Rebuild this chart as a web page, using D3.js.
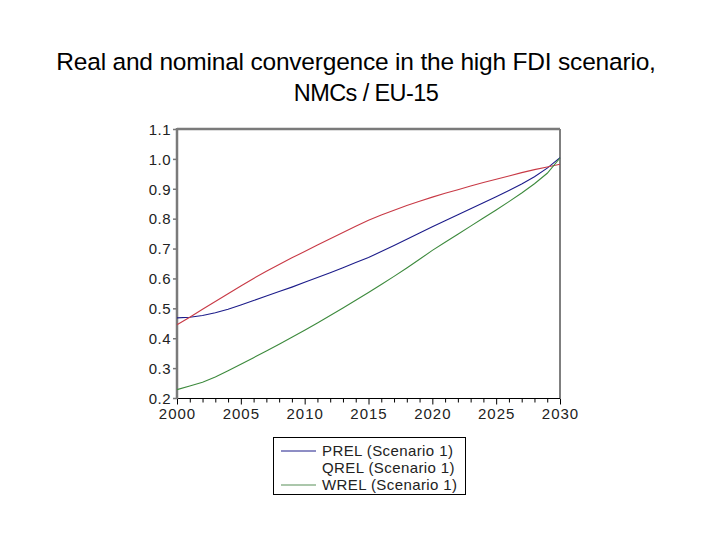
<!DOCTYPE html>
<html>
<head>
<meta charset="utf-8">
<script src="https://cdn.jsdelivr.net/npm/d3@7"></script>
<style>
  body { margin: 0; background: #fff; }
  text { font-family: "Liberation Sans", Arial, sans-serif; }
</style>
</head>
<body>
<div id="chart"></div>
<script>
// series, one value per year
var years = d3.range(2000, 2031);
var prel = [0.468, 0.470, 0.476, 0.485, 0.497, 0.511, 0.526, 0.541, 0.556, 0.571,
            0.587, 0.603, 0.619, 0.636, 0.653, 0.670, 0.690, 0.710, 0.731, 0.752,
            0.773, 0.793, 0.813, 0.833, 0.853, 0.873, 0.894, 0.916, 0.940, 0.969, 1.004];
var qrel = [0.445, 0.470, 0.497, 0.523, 0.549, 0.575, 0.600, 0.624, 0.647, 0.669,
            0.690, 0.712, 0.733, 0.754, 0.775, 0.795, 0.812, 0.828, 0.844, 0.858,
            0.872, 0.885, 0.897, 0.909, 0.921, 0.932, 0.943, 0.954, 0.964, 0.973, 0.982];
var wrel = [0.228, 0.240, 0.253, 0.270, 0.291, 0.313, 0.335, 0.357, 0.380, 0.403,
            0.427, 0.451, 0.476, 0.501, 0.527, 0.553, 0.580, 0.607, 0.635, 0.664,
            0.694, 0.721, 0.748, 0.775, 0.802, 0.829, 0.857, 0.886, 0.917, 0.952, 1.003];
var yTicks = [0.2, 0.3, 0.4, 0.5, 0.6, 0.7, 0.8, 0.9, 1.0, 1.1];
var xTicks = [2000, 2005, 2010, 2015, 2020, 2025, 2030];
var seriesNames = ['PREL (Scenario 1)', 'QREL (Scenario 1)', 'WREL (Scenario 1)'];

var W = 720, H = 540;
var pLeft = 177, pRight = 560, pTop = 129, pBottom = 398;

var svg = d3.select('#chart').append('svg')
  .attr('width', W).attr('height', H);

svg.append('text').attr('x', 356).attr('y', 70)
  .attr('text-anchor', 'middle').style('font-size', '24.5px').style('fill', '#000')
  .style('letter-spacing', '-0.2px')
  .text('Real and nominal convergence in the high FDI scenario,');
svg.append('text').attr('x', 366).attr('y', 101)
  .attr('text-anchor', 'middle').style('font-size', '23.5px').style('fill', '#000')
  .style('letter-spacing', '-0.6px')
  .text('NMCs / EU-15');

var x = d3.scaleLinear().domain([2000, 2030]).range([pLeft, pRight]);
var y = d3.scaleLinear().domain([0.2, 1.1]).range([pBottom, pTop]);

// frame: right + bottom black, left + top gray
svg.append('line').attr('x1', pRight).attr('x2', pRight).attr('y1', pTop).attr('y2', pBottom)
  .attr('stroke', '#000').attr('stroke-width', 1);
svg.append('line').attr('x1', pLeft).attr('x2', pRight).attr('y1', pBottom + 0.5).attr('y2', pBottom + 0.5)
  .attr('stroke', '#000').attr('stroke-width', 1);

// x axis (yearly minor ticks)
var xAxis = d3.axisBottom(x).tickValues(years).tickSize(4)
  .tickFormat(function(d) { return xTicks.indexOf(d) >= 0 ? d : ''; });
var gx = svg.append('g').attr('transform', 'translate(0,' + (pBottom + 0.5) + ')').call(xAxis);
gx.select('.domain').remove();
gx.selectAll('.tick line').attr('stroke', '#000')
  .attr('y2', function(d) { return xTicks.indexOf(d) >= 0 ? 6 : 4; });
gx.selectAll('.tick text').attr('y', 10).style('font-size', '15px').style('fill', '#222')
  .style('letter-spacing', '1px')
  .style('font-family', '"Liberation Sans", Arial, sans-serif');

// y axis
var yAxis = d3.axisLeft(y).tickValues(yTicks).tickSize(4).tickFormat(d3.format('.1f'));
var gy = svg.append('g').attr('transform', 'translate(' + pLeft + ',0)').call(yAxis);
gy.select('.domain').remove();
gy.selectAll('.tick line').attr('stroke', '#777').attr('stroke-width', 1.5);
gy.selectAll('.tick text').attr('x', -6).attr('dy', '0.35em').style('font-size', '15px')
  .style('letter-spacing', '0.5px')
  .style('fill', '#222').style('font-family', '"Liberation Sans", Arial, sans-serif');

svg.append('line').attr('x1', pLeft).attr('x2', pLeft).attr('y1', pTop - 1).attr('y2', pBottom + 1)
  .attr('stroke', '#7a7a7a').attr('stroke-width', 2.5);
svg.append('line').attr('x1', pLeft).attr('x2', pRight).attr('y1', pTop).attr('y2', pTop)
  .attr('stroke', '#7a7a7a').attr('stroke-width', 2.5);

var line = d3.line()
  .x(function(d, i) { return x(years[i]); })
  .y(function(d) { return y(d); });

var colors = ['#1c1c8a', '#c83a46', '#3d8a3d'];
[prel, qrel, wrel].forEach(function(s, i) {
  svg.append('path').datum(s).attr('d', line)
    .attr('fill', 'none').attr('stroke', colors[i]).attr('stroke-width', 1.1);
});

// legend (QREL has no visible key line in the original)
var lg = svg.append('g');
lg.append('rect').attr('x', 273.5).attr('y', 437.5).attr('width', 192).attr('height', 57)
  .attr('fill', '#fff').attr('stroke', '#000').attr('stroke-width', 1);
var legendKeys = ['#1c1c8a', null, '#8fb48f'];
seriesNames.forEach(function(n, i) {
  var yy = 451 + i * 17;
  if (legendKeys[i]) {
    lg.append('line').attr('x1', 281).attr('x2', 316).attr('y1', yy).attr('y2', yy)
      .attr('stroke', legendKeys[i]).attr('stroke-width', i === 2 ? 1.5 : 1);
  }
  lg.append('text').attr('x', 322).attr('y', yy + 5).style('font-size', '15px')
    .style('letter-spacing', '0.4px')
    .style('fill', '#222').text(n);
});
</script>
</body>
</html>
